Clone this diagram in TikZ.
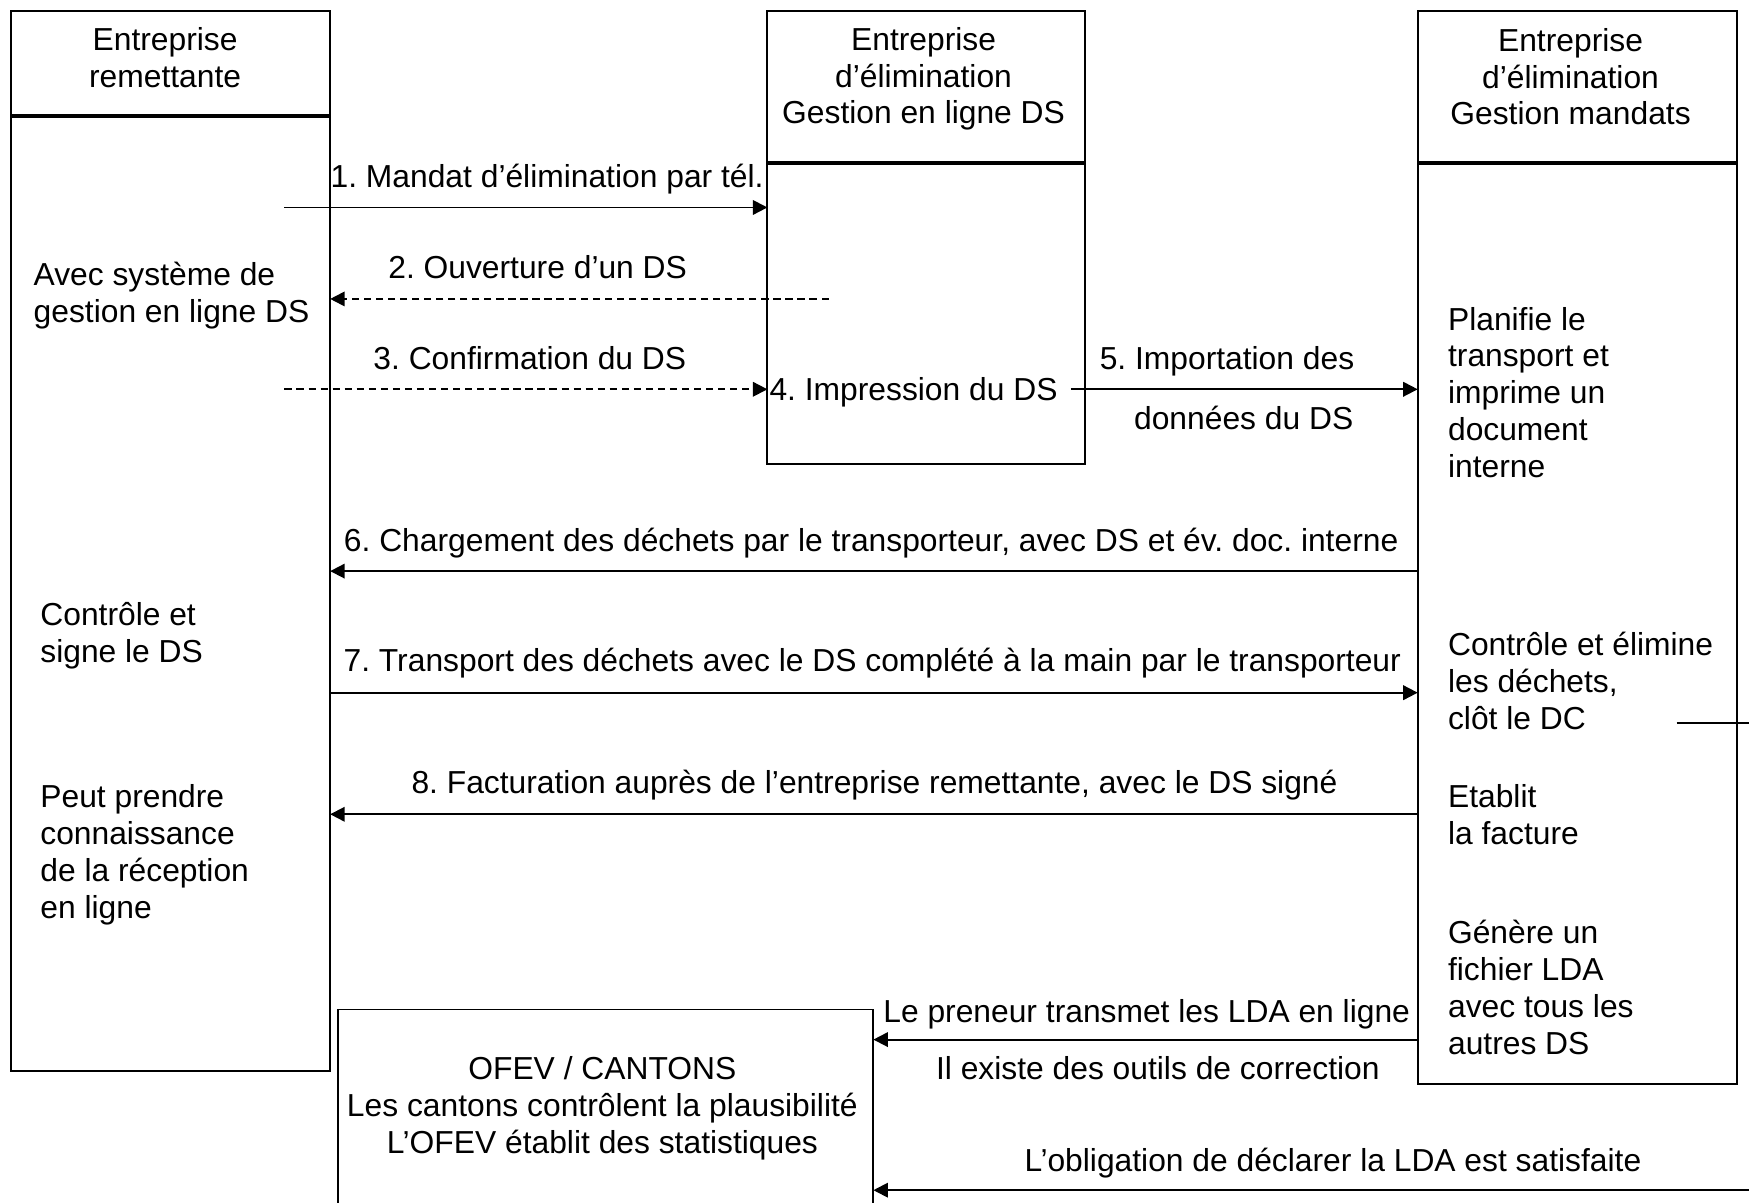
\documentclass[tikz,border=0pt]{standalone}
\usepackage{fontspec}
\setmainfont{Liberation Sans}
\usetikzlibrary{arrows.meta}
\frenchspacing
\begin{document}
\begin{tikzpicture}[x=1pt,y=-1pt,
  box/.style={draw, line width=1.7pt, rectangle, inner sep=0pt, outer sep=0pt, anchor=north west},
  divider/.style={line width=3pt},
  txt/.style={inner sep=0pt, font=\fontsize{28.5}{33}\selectfont},
  lbl/.style={txt, anchor=base},
  body/.style={txt, anchor=base west, align=left},
  head/.style={txt, anchor=base, align=center},
  msg/.style={line width=1.7pt, -{Triangle[length=13pt,width=13pt]}},
  ret/.style={msg, dash pattern=on 6.5pt off 4.3pt},
  plain/.style={line width=1.7pt}]
\clip (0,0) rectangle (1568,1078);
% boxes
\node[box, minimum width=286pt, minimum height=950pt] (L) at (10,10) {};
\node[box, minimum width=285pt, minimum height=406pt] (M) at (688,10) {};
\node[box, minimum width=286pt, minimum height=962pt] (R) at (1271,10) {};
\node[box, minimum width=480pt, minimum height=220pt] (O) at (303,905) {};
\draw[divider] ([yshift=-94pt]L.north west) -- ([yshift=-94pt]L.north east);
\draw[divider] ([yshift=-136pt]M.north west) -- ([yshift=-136pt]M.north east);
\draw[divider] ([yshift=-136pt]R.north west) -- ([yshift=-136pt]R.north east);
% headers (anchor = baseline of last line)
\node[head] (hL) at (148,78) {Entreprise\\remettante};
\node[head] (hM) at (828,111) {Entreprise\\d’élimination\\Gestion en ligne DS};
\node[head] (hR) at (1408,112) {Entreprise\\d’élimination\\Gestion mandats};
% body texts
\node[body] (tL1) at (30,289) {Avec système de\\gestion en ligne DS};
\node[body] (tL2) at (36,594) {Contrôle et\\signe le DS};
\node[body] (tL3) at (36,823) {Peut prendre\\connaissance\\de la réception\\en ligne};
\node[body] (tR1) at (1298,428) {Planifie le\\transport et\\imprime un\\document\\interne};
\node[body] (tR2) at (1298,654) {Contrôle et élimine\\les déchets,\\clôt le DC};
\node[body] (tR3) at (1298,757) {Etablit\\la facture};
\node[body] (tR4) at (1298,945) {Génère un\\fichier LDA\\avec tous les\\autres DS};
\node[head] (tO) at (540,1034) {OFEV / CANTONS\\Les cantons contrôlent la plausibilité\\L’OFEV établit des statistiques};
% message labels
\node[lbl] (l1) at (490.5,168) {1. Mandat d’élimination par tél.};
\node[lbl] (l2) at (482,250) {2. Ouverture d’un DS};
\node[lbl] (l3) at (475,331) {3. Confirmation du DS};
\node[lbl] (l4) at (819,359) {4. Impression du DS};
\node[lbl] (l5a) at (1100,331) {5. Importation des};
\node[lbl] (l5b) at (1115,385) {données du DS};
\node[lbl] (l6) at (781,494) {6. Chargement des déchets par le transporteur, avec DS et év. doc. interne};
\node[lbl] (l7) at (782,602) {7. Transport des déchets avec le DS complété à la main par le transporteur};
\node[lbl] (l8) at (784,711) {8. Facturation auprès de l’entreprise remettante, avec le DS signé};
\node[lbl] (l9a) at (1028,917) {Le preneur transmet les LDA en ligne};
\node[lbl] (l9b) at (1038,968) {Il existe des outils de correction};
\node[lbl] (l10) at (1195,1050) {L’obligation de déclarer la LDA est satisfaite};
% connectors
\coordinate (s1) at (255,186);
\draw[msg] (s1) -- (s1 -| M.west);
\coordinate (s2) at (743,268);
\draw[ret] (s2) -- (s2 -| L.east);
\coordinate (s3) at (255,349);
\draw[ret] (s3) -- (s3 -| M.west);
\coordinate (s5) at (960,349);
\draw[msg] (s5) -- (s5 -| R.west);
\coordinate (y6) at (0,512);
\draw[msg] (y6 -| R.west) -- (y6 -| L.east);
\coordinate (y7) at (0,621);
\draw[msg] (y7 -| L.east) -- (y7 -| R.west);
\coordinate (y8) at (0,730);
\draw[msg] (y8 -| R.west) -- (y8 -| L.east);
\coordinate (y9) at (0,932);
\draw[msg] (y9 -| R.west) -- (y9 -| O.east);
\coordinate (s10) at (1568,1067);
\draw[msg] (s10) -- (s10 -| O.east);
\coordinate (s11) at (1503,648);
\coordinate (e11) at (1568,648);
\draw[plain] (s11) -- (e11);
\end{tikzpicture}
\end{document}
